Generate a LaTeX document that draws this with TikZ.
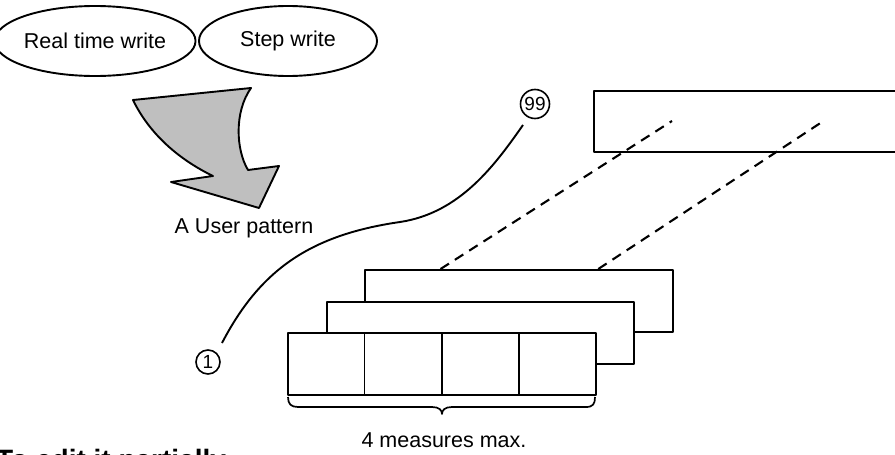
\documentclass[tikz,border=0pt]{standalone}
\usepackage{fontspec}
\setmainfont{Liberation Sans}
\usetikzlibrary{calc,shapes.geometric}
\begin{document}
\begin{tikzpicture}[x=1pt, y=-1pt, line join=round,
  lbl/.style={font=\fontsize{21.5}{24}\selectfont},
  oval/.style={ellipse, draw, line width=1.9pt, inner sep=0pt, font=\fontsize{21.5}{24}\selectfont},
  box/.style={draw, fill=white, line width=1.9pt, inner sep=0pt, minimum height=62pt, anchor=north west},
  num/.style={circle, draw, line width=1.6pt, inner sep=0pt, font=\fontsize{19}{19}\selectfont},
  dashline/.style={line width=2.1pt, dash pattern=on 10pt off 7pt},
  thick line/.style={line width=1.9pt}]
\useasboundingbox (0,0) rectangle (895,455);

% ovals
\node[oval, minimum width=170pt, minimum height=70pt] (rt) at (95,41) {Real time write};
\node[oval, minimum width=178pt, minimum height=70pt] (sw) at (288,41) {Step write};

% shaded arrow
\filldraw[fill=gray!50, thick line] (133,100) -- (251,88)
  .. controls (234,112) and (236,150) .. (248,170) -- (279,166) -- (259,208)
  -- (171,182) -- (213,176) .. controls (180,160) and (150,135) .. cycle;
\node[lbl, anchor=base] (up) at (244,233) {A User pattern};

% far rectangle (pattern 99)
\node[draw, thick line, inner sep=0pt, minimum width=340pt, minimum height=61pt, anchor=north west] (far) at (593,90) {};

% numbered circles and curve
\node[num, minimum size=24pt] (c1) at (208,362) {1};
\node[num, minimum size=29pt] (c99) at (535,104) {99};
\draw[thick line] ($(c1)+(14,-19)$) .. controls (260,270) and (310,235) .. (400,222)
  .. controls (460,213) and (495,165) .. ($(c99)+(-12,21)$);

% stacked rectangles
\node[box, minimum width=308pt] (back) at (364,269) {};
\coordinate (d1) at (672,121);
\coordinate (d2) at (825,120);
\draw[dashline] ($(back.north west)!0.247!(back.north east)$) -- (d1);
\draw[dashline] ($(back.north west)!0.756!(back.north east)$) -- (d2);
\node[box, minimum width=307pt] (mid) at (326,301) {};
\node[box, minimum width=308pt] (front) at (287,332) {};
\foreach \f in {0.25,0.5,0.75}
  \draw[thick line] ($(front.north west)!\f!(front.north east)$) -- ($(front.south west)!\f!(front.south east)$);

% brace
\draw[line width=1.7pt] (288,397) .. controls (288,404) and (291,407) .. (298,407) -- (432,407)
  .. controls (439,407) and (442,410) .. (442,414) .. controls (442,410) and (445,407) .. (452,407)
  -- (586,407) .. controls (593,407) and (595,404) .. (595,397);
\node[lbl, anchor=base] (mm) at (444,447) {4 measures max.};

% heading cut off at the bottom edge, as in the reference
\node[font=\bfseries\fontsize{28}{30}\selectfont, anchor=base west, inner sep=0pt] (hd) at (-4,469) {To edit it partially};
\end{tikzpicture}
\end{document}
